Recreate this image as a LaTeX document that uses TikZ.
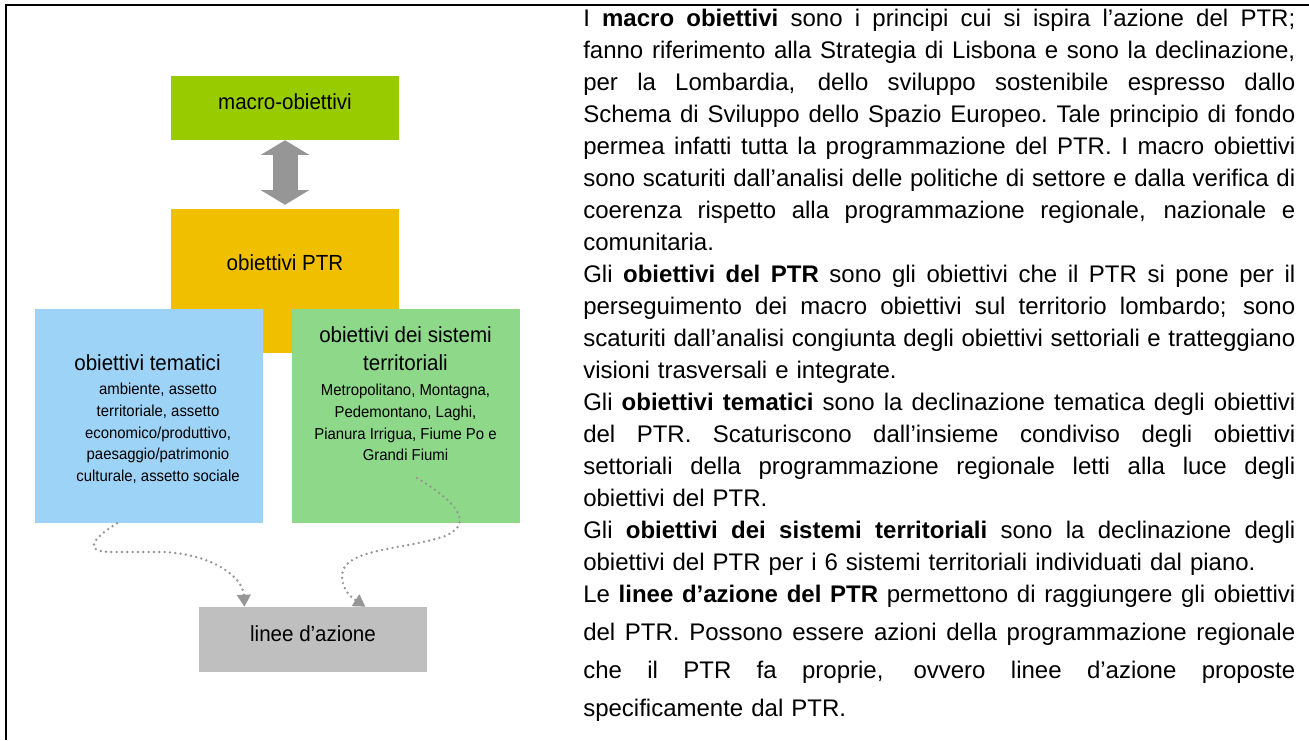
\documentclass[tikz,border=0pt]{standalone}
\usepackage{fontspec}
\setmainfont{Liberation Sans}
\newfontfamily\narrowsf[FakeStretch=0.94]{Liberation Sans}
\usepackage{tikz}
\usetikzlibrary{calc,positioning,arrows.meta}
\definecolor{macrogreen}{RGB}{153,204,0}
\definecolor{ptryellow}{RGB}{240,192,0}
\definecolor{temblue}{RGB}{158,211,248}
\definecolor{sisgreen}{RGB}{142,216,138}
\definecolor{lingray}{RGB}{191,191,191}
\definecolor{arrowgray}{RGB}{150,150,150}
\tikzstyle{goalbox}  = [draw=none, inner sep=0pt, minimum width=171pt]
\tikzstyle{boxtitle} = [font=\narrowsf\fontsize{16.4}{21}\selectfont, align=center, inner sep=0pt]
\tikzstyle{boxnote}  = [font=\narrowsf\fontsize{11.9}{16.3}\selectfont, align=center, inner sep=0pt]
\tikzstyle{flow}     = [arrowgray, line width=2pt, line cap=round, dash pattern=on 0pt off 4pt, -{Triangle[width=10pt,length=9pt]}]
\newcommand{\jline}[1]{\noindent\hbox to 534pt{\spaceskip=.278em plus 1fil\xspaceskip=\spaceskip #1}\par}
\newcommand{\eline}[1]{\noindent\hbox{\frenchspacing #1}\par}

\begin{document}
\begin{tikzpicture}[x=0.75pt,y=-0.75pt]
        \useasboundingbox (0,0) rectangle (1309,740);
        \draw[line width=1.5pt] (5.5,740) -- (5.5,5) -- (1309,5);

        % schema
        \node[goalbox, fill=macrogreen, minimum height=48pt] (macro) at (285,108) {};
        \node[goalbox, fill=ptryellow, minimum height=108pt] (ptr) at (285,281) {};
        \node[goalbox, fill=temblue, minimum height=160.5pt] (tem) at (149,416) {};
        \node[goalbox, fill=sisgreen, minimum height=160.5pt] (sis) at (405.5,416) {};
        \node[goalbox, fill=lingray, minimum height=48.75pt] (linee) at (313,639.5) {};

        \node[boxtitle] (macrolbl) at ($(macro.center)+(0,-6)$) {macro-obiettivi};
        \node[boxtitle] (ptrlbl) at (285,263) {obiettivi PTR};
        \node[boxtitle] (temlbl) at (147.5,363) {obiettivi tematici};
        \node[boxnote] (temtxt) at (158,433.5) {ambiente, assetto\\territoriale, assetto\\economico/produttivo,\\paesaggio/patrimonio\\culturale, assetto sociale};
        \node[boxtitle] (sislbl) at (405.5,349) {obiettivi dei sistemi\\territoriali};
        \node[boxnote] (sistxt) at (405.5,422.5) {Metropolitano, Montagna,\\Pedemontano, Laghi,\\Pianura Irrigua, Fiume Po e\\Grandi Fiumi};
        \node[boxtitle] (lineelbl) at ($(linee.center)+(0,-6)$) {linee d’azione};

        \draw[arrowgray, line width=18.75pt, {Triangle[length=11pt 0,width=36pt 0]}-{Triangle[length=11pt 0,width=36pt 0]}] (macro.south) -- ($(ptr.north)+(0,-4)$);

        \coordinate (temout) at ($(tem.south west)!0.36!(tem.south east)$);
        \coordinate (sisout) at (417,478);
        \coordinate (linin1) at ($(linee.north west)!0.2!(linee.north east)$);
        \coordinate (linin2) at ($(linee.north west)!0.73!(linee.north east)$);
        \draw[flow] (temout) .. controls (95,537) and (80,552) .. (112,552) -- (165,552) .. controls (215,555) and (243,578) .. (linin1);
        \draw[flow] (sisout) .. controls (450,498) and (478,522) .. (445,536) .. controls (405,550) and (342,548) .. (342,576) .. controls (342,590) and (352,598) .. (linin2);

        % testo
        \node[anchor=north west, inner sep=0pt, text width=534pt, font=\fontsize{18}{24}\selectfont] (legend) at (583,8.6) {\parindent0pt\parskip0pt
          \jline{I \textbf{macro obiettivi} sono i principi cui si ispira l’azione del PTR;}
          \jline{fanno riferimento alla Strategia di Lisbona e sono la declinazione,}
          \jline{per la Lombardia, dello sviluppo sostenibile espresso dallo}
          \jline{Schema di Sviluppo dello Spazio Europeo. Tale principio di fondo}
          \jline{permea infatti tutta la programmazione del PTR. I macro obiettivi}
          \jline{sono scaturiti dall’analisi delle politiche di settore e dalla verifica di}
          \jline{coerenza rispetto alla programmazione regionale, nazionale e}
          \eline{comunitaria.}
          \jline{Gli \textbf{obiettivi del PTR} sono gli obiettivi che il PTR si pone per il}
          \jline{perseguimento dei macro obiettivi sul territorio lombardo; sono}
          \jline{scaturiti dall’analisi congiunta degli obiettivi settoriali e tratteggiano}
          \eline{visioni trasversali e integrate.}
          \jline{Gli \textbf{obiettivi tematici} sono la declinazione tematica degli obiettivi}
          \jline{del PTR. Scaturiscono dall’insieme condiviso degli obiettivi}
          \jline{settoriali della programmazione regionale letti alla luce degli}
          \eline{obiettivi del PTR.}
          \jline{Gli \textbf{obiettivi dei sistemi territoriali} sono la declinazione degli}
          \eline{obiettivi del PTR per i 6 sistemi territoriali individuati dal piano.}
          \jline{Le \textbf{linee d’azione del PTR} permettono di raggiungere gli obiettivi}
          \baselineskip=28.5pt
          \jline{del PTR. Possono essere azioni della programmazione regionale}
          \jline{che il PTR fa proprie, ovvero linee d’azione proposte}
          \eline{specificamente dal PTR.}};
\end{tikzpicture}
\end{document}
